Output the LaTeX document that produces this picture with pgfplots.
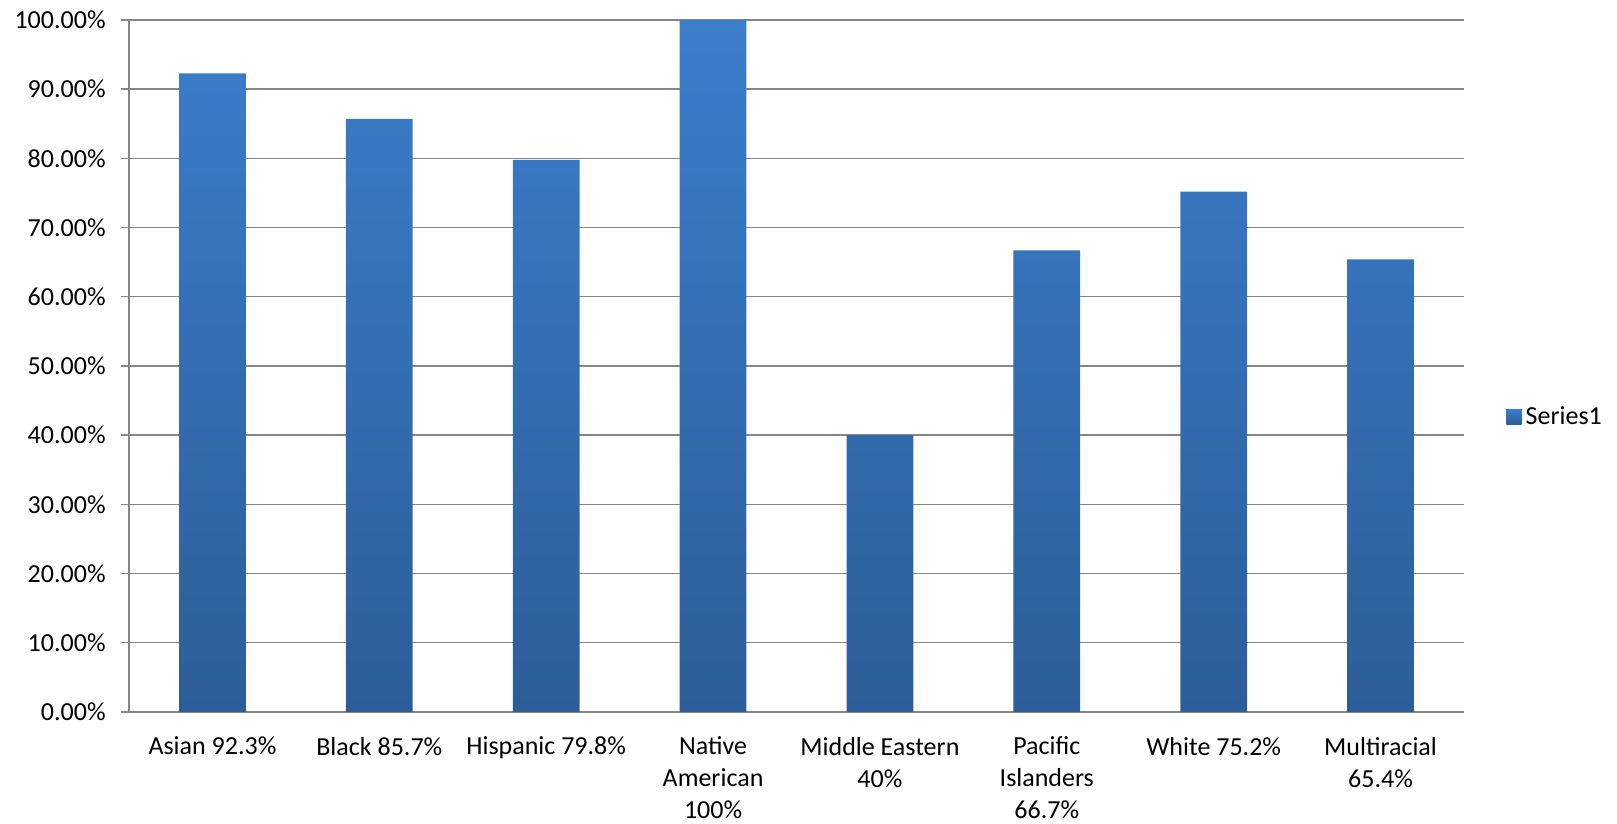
\documentclass[border=0pt]{standalone}
\usepackage{pgfplots}
\pgfplotsset{compat=1.18}
\usepackage{fontspec}
\setmainfont{Carlito}
\definecolor{bartop}{RGB}{59,126,204}
\definecolor{barbot}{RGB}{44,93,152}
\definecolor{gridc}{RGB}{134,134,134}
\begin{document}
\begin{tikzpicture}
\begin{axis}[
  at={(0,0)}, anchor=south west,
  scale only axis,
  width=667.5pt, height=346pt,
  xmin=-0.5, xmax=7.5,
  ymin=0, ymax=100,
  axis x line*=bottom, axis y line*=left,
  axis line style={gridc, line width=0.7pt},
  ymajorgrids,
  grid style={gridc, line width=0.7pt},
  ytick={0,10,...,100},
  yticklabels={0.00\%,10.00\%,20.00\%,30.00\%,40.00\%,50.00\%,60.00\%,70.00\%,80.00\%,90.00\%,100.00\%},
  xtick={0,...,7},
  xticklabels={Asian 92.3\%, Black 85.7\%, Hispanic 79.8\%, Native\\American\\100\%, Middle Eastern\\40\%, Pacific\\Islanders\\66.7\%, White 75.2\%, Multiracial\\65.4\%},
  major x tick style={draw=none},
  extra x ticks={-0.5,0.5,...,7.5},
  extra x tick labels={},
  extra x tick style={major tick length=4pt, tick align=outside, major tick style={gridc, line width=0.7pt}, grid=none},
  tick align=outside,
  major tick length=4pt,
  tick style={gridc, line width=0.7pt},
  yticklabel style={font=\fontsize{13}{16}\selectfont, anchor=east, inner sep=0pt, xshift=-7.5pt},
  xticklabel style={font=\fontsize{13}{16}\selectfont, align=center, anchor=north, inner sep=0pt, yshift=-8.3pt},
  ybar, bar width=0.4,
  legend style={draw=none, fill=none, at={(1.0315,0.4267)}, anchor=west, inner sep=0pt, font=\fontsize{13}{16}\selectfont, legend cell align=left},
  legend image code/.code={\fill[top color=bartop, bottom color=barbot] (0pt,-3.8pt) rectangle (7.6pt,3.8pt);},
]
\addplot[draw=none, top color=bartop, bottom color=barbot] coordinates {
 (0,92.3) (1,85.7) (2,79.8) (3,100) (4,40) (5,66.7) (6,75.2) (7,65.4)};
\addlegendentry{Series1}
\end{axis}
\pgfresetboundingbox
\path (-64.5pt,-56pt) rectangle (744pt,356pt);
\end{tikzpicture}
\end{document}
